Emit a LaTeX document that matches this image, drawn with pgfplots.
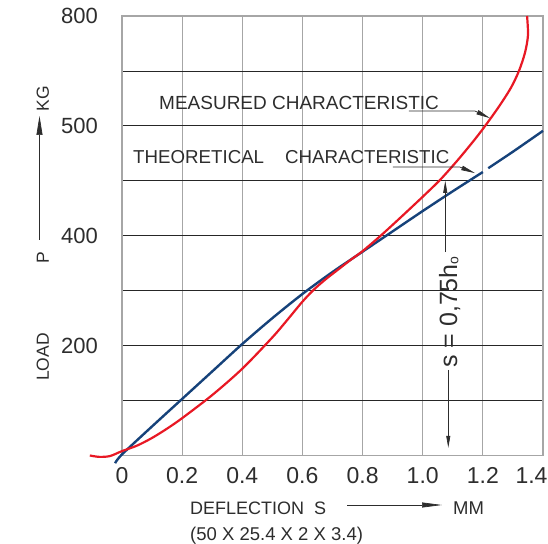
\documentclass[border=0pt]{standalone}
\usepackage{fontspec}
\setmainfont{Liberation Sans}
\usepackage{pgfplots}
\pgfplotsset{compat=1.18}
\usetikzlibrary{arrows.meta}
\definecolor{theoblue}{RGB}{22,66,122}
\definecolor{measred}{RGB}{232,24,36}
\definecolor{ink}{RGB}{45,45,45}
\newcommand{\fs}[1]{\fontsize{#1}{#1}\selectfont}

\begin{document}
\begin{tikzpicture}
\begin{axis}[
  at={(0,0)}, anchor=south west,
  scale only axis, width=421pt, height=439.5pt,
  xmin=0, xmax=1.4, ymin=0, ymax=800,
  xtick={0,0.2,0.4,0.6,0.8,1.0,1.2,1.4},
  xticklabels={0,0.2,0.4,0.6,0.8,1.0,1.2,\hspace*{-23pt}1.4},
  ytick={200,400,600,800},
  yticklabels={200,400,500,800},
  minor ytick={100,300,500,700},
  grid=both,
  major tick length=0pt, minor tick length=0pt,
  x grid style={gray!70, line width=1.2pt},
  y grid style={black!85, line width=0.8pt},
  axis line style={gray!70, line width=1.2pt},
  xticklabel style={font=\fs{23}, inner sep=0pt, anchor=north, yshift=-11.5pt, text=ink},
  yticklabel style={font=\fs{22}, inner sep=0pt, anchor=east, xshift=-24pt, text=ink},
  clip=false,
]
% theoretical characteristic (gap where the leader meets it)
\addplot[theoblue, line width=2.4pt, smooth] coordinates {
 (-0.023,-14) (0,2) (0.1,53) (0.2,103) (0.3,153) (0.4,203) (0.5,250)
 (0.6,294) (0.7,334) (0.8,371) (0.9,408) (1.0,445) (1.1,481) (1.2,516)
};
\addplot[theoblue, line width=2.4pt, smooth] coordinates {
 (1.218,523) (1.3,553) (1.4,591)
};
% measured characteristic
\addplot[measred, line width=2.2pt, smooth] coordinates {
 (-0.107,0) (-0.075,-2.5) (-0.04,-1) (0,8) (0.05,18) (0.1,32) (0.15,49)
 (0.2,68) (0.3,110) (0.4,158) (0.5,215) (0.55,247) (0.6,280) (0.64,303)
 (0.68,322) (0.72,339) (0.76,356) (0.8,372) (0.86,400) (0.92,430)
 (1.0,471) (1.06,503) (1.12,540) (1.177,578) (1.217,607) (1.257,638)
 (1.294,670) (1.32,700) (1.34,733) (1.35,765) (1.347,800)
};

\node[anchor=base west, inner sep=0pt, font=\fs{19}, text=ink] at (axis cs:0.123,630) {MEASURED CHARACTERISTIC};
\draw[ink, line width=0.7pt, -{Triangle[length=14pt,width=4.5pt]}]
  (axis cs:0.954,627) -- (axis cs:1.174,627) -- (axis cs:1.224,614);
\node[anchor=base west, inner sep=0pt, font=\fs{18.7}, text=ink] at (axis cs:0.0366,532) {THEORETICAL};
\node[anchor=base west, inner sep=0pt, font=\fs{18.7}, text=ink] at (axis cs:0.542,532) {CHARACTERISTIC};
\draw[ink, line width=0.7pt, -{Triangle[length=14pt,width=4.5pt]}]
  (axis cs:0.901,525) -- (axis cs:1.124,525) -- (axis cs:1.174,514);

% s = 0,75 h0 dimension
\draw[ink, line width=0.7pt, -{Triangle[length=12pt,width=4pt]}] (axis cs:1.075,370) -- (axis cs:1.075,500);
\draw[ink, line width=0.7pt, -{Triangle[length=12pt,width=4pt]}] (axis cs:1.085,156) -- (axis cs:1.085,14);
\node[rotate=90, anchor=base, inner sep=0pt, font=\fs{25}, text=ink] at (axis cs:1.114,261)
  {s = 0,75h\raisebox{-0.1ex}{\fs{14}o}};
\end{axis}

% y axis label
\node[rotate=90, anchor=base, inner sep=0pt, font=\fs{17.5}, text=ink] at (-73pt,98.5pt) {LOAD};
\node[rotate=90, anchor=base, inner sep=0pt, font=\fs{17.5}, text=ink] at (-73pt,197.5pt) {P};
\node[rotate=90, anchor=base, inner sep=0pt, font=\fs{17.5}, text=ink] at (-73pt,356.5pt) {KG};
\draw[ink, line width=0.7pt, -{Triangle[length=19pt,width=6pt]}] (-82.5pt,215.5pt) -- (-82.5pt,339.5pt);

% x axis label
\node[anchor=base west, inner sep=0pt, font=\fs{18}, text=ink] at (68pt,-58.5pt) {DEFLECTION~~S};
\draw[ink, line width=0.7pt, -{Triangle[length=20pt,width=5pt]}] (225pt,-49.5pt) -- (320pt,-49.5pt);
\node[anchor=base west, inner sep=0pt, font=\fs{18.5}, text=ink] at (331pt,-58.5pt) {MM};
\node[anchor=base west, inner sep=0pt, font=\fs{18.5}, text=ink] at (68pt,-84.5pt) {(50 X 25.4 X 2 X 3.4)};

\pgfresetboundingbox
\path[use as bounding box] (-122pt,-87.5pt) rectangle (426pt,455.5pt);
\end{tikzpicture}
\end{document}
